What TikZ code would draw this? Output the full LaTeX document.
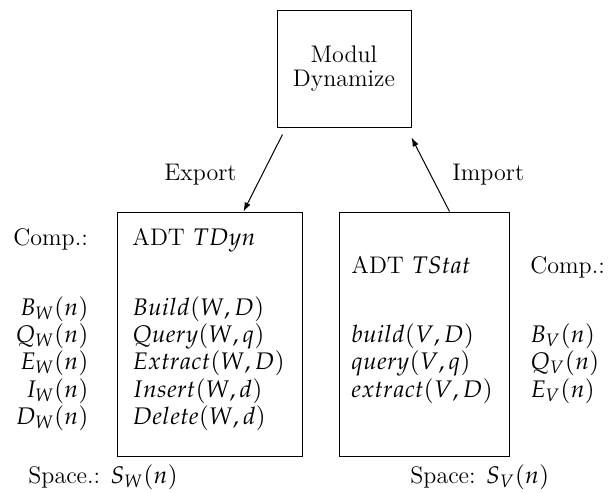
\documentclass[tikz,border=0pt]{standalone}
\usepackage[sc]{mathpazo}
\usetikzlibrary{arrows.meta,calc}
\begin{document}
\begin{tikzpicture}[x=0.5pt,y=-0.5pt,
  font=\fontsize{12}{12}\selectfont,
  box/.style={draw, line width=0.5pt, inner sep=0pt},
  tl/.style={anchor=base west, inner sep=0pt},
  tr/.style={anchor=base east, inner sep=0pt},
  arr/.style={line width=0.5pt, -{Latex[length=4.5pt,width=3.2pt]}}]
\useasboundingbox (0,0) rectangle (612,493);
% boxes
\node[box, minimum width=67pt, minimum height=58.5pt, align=center] (mod) at (344,68.5) {Modul\\Dynamize};
\node[box, minimum width=92.5pt, minimum height=122pt] (dyn) at (209.5,334) {};
\node[box, minimum width=85pt, minimum height=122pt] (stat) at (424,334) {};
% connector endpoints
\coordinate (exA) at ($(mod.south west)+(6,7)$);
\coordinate (exB) at ($(dyn.north west)+(127,0)$);
\coordinate (imA) at ($(stat.north west)+(111,0)$);
\coordinate (imB) at ($(mod.south east)+(0,10)$);
\draw[arr] (exA) -- (exB);
\draw[arr] (imA) -- (imB);
\node[tr] (export) at (237,180) {Export};
\node[tl] (import) at (452,180) {Import};
% left column
\node[tl] (compW) at (13,245) {Comp.:};
\node[tr] (bw) at (89,315) {$B_W(n)$};
\node[tr] (qw) at (89,342) {$Q_W(n)$};
\node[tr] (ew) at (89,369) {$E_W(n)$};
\node[tr] (iw) at (89,397) {$I_W(n)$};
\node[tr] (dw) at (89,424) {$D_W(n)$};
% left box
\node[tl] (adtW) at (132,245) {ADT $TDyn$};
\node[tl] (opB) at (132,315) {$Build(W,D)$};
\node[tl] (opQ) at (132,342) {$Query(W,q)$};
\node[tl] (opE) at (132,369) {$Extract(W,D)$};
\node[tl] (opI) at (132,397) {$Insert(W,d)$};
\node[tl] (opD) at (132,424) {$Delete(W,d)$};
% right box
\node[tl] (adtV) at (351,273) {ADT $TStat$};
\node[tl] (opb) at (351,342) {$build(V,D)$};
\node[tl] (opq) at (351,369) {$query(V,q)$};
\node[tl] (ope) at (351,397) {$extract(V,D)$};
% right column
\node[tl] (compV) at (530,273) {Comp.:};
\node[tl] (bv) at (530,342) {$B_V(n)$};
\node[tl] (qv) at (530,369) {$Q_V(n)$};
\node[tl] (ev) at (530,397) {$E_V(n)$};
% space
\node[tl] (spW) at (28,483) {Space.: $S_W(n)$};
\node[tl] (spV) at (410,483) {Space: $S_V(n)$};
\end{tikzpicture}
\end{document}
